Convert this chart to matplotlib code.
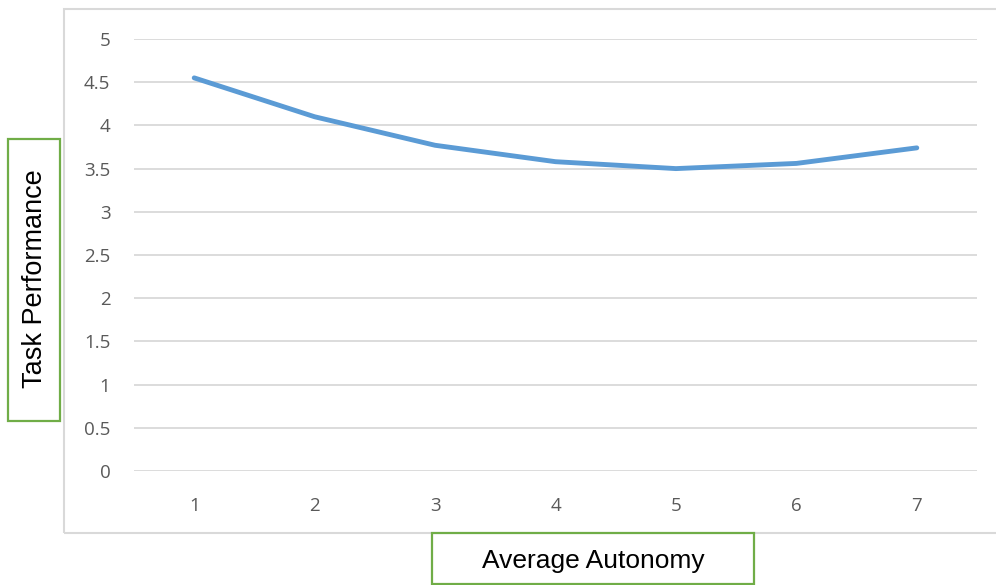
import matplotlib
matplotlib.use("Agg")
import matplotlib.pyplot as plt
from matplotlib.patches import Rectangle

# data
autonomy = [1, 2, 3, 4, 5, 6, 7]
performance = [4.55, 4.10, 3.77, 3.58, 3.50, 3.56, 3.74]
y_ticks = [0, 0.5, 1, 1.5, 2, 2.5, 3, 3.5, 4, 4.5, 5]
y_tick_labels = ["0", "0.5", "1", "1.5", "2", "2.5", "3", "3.5", "4", "4.5", "5"]

W, H = 996, 585
fig = plt.figure(figsize=(W / 100, H / 100), dpi=100)
fig.patch.set_facecolor("white")


def px_rect(x0, y0, x1, y1, color, lw):
    # rectangle given in pixel coords (top-left origin)
    r = Rectangle((x0 / W, 1 - y1 / H), (x1 - x0) / W, (y1 - y0) / H,
                  transform=fig.transFigure, fill=False, edgecolor=color,
                  linewidth=lw, zorder=0)
    fig.add_artist(r)


# outer chart border
px_rect(64, 9, 1000, 533, "#d9d9d9", 1.5)

ax = fig.add_axes([134 / W, 1 - 471 / H, (977 - 134) / W, (471 - 39) / H])
ax.plot(autonomy, performance, color="#5b9bd5", linewidth=3.5,
        solid_capstyle="round", solid_joinstyle="round", zorder=3)

ax.set_xlim(0.5, 7.5)
ax.set_ylim(0, 5)
ax.set_yticks(y_ticks)
ax.set_yticklabels(y_tick_labels)
ax.set_xticks(autonomy)
ax.grid(axis="y", color="#d9d9d9", linewidth=1.3)
ax.set_axisbelow(True)
for s in ax.spines.values():
    s.set_visible(False)
ax.tick_params(length=0, labelcolor="#595959", labelsize=13.5)
ax.tick_params(axis="y", pad=17)
ax.tick_params(axis="x", pad=19)
for lab in ax.get_xticklabels() + ax.get_yticklabels():
    lab.set_fontfamily("Open Sans")

# axis title boxes
px_rect(8, 139, 60, 421, "#70ad47", 1.6)
px_rect(432, 533, 754, 584, "#70ad47", 1.6)
fig.text(35 / W, 1 - 279 / H, "Task Performance", rotation=90,
         ha="center", va="center", fontsize=19.5, family="Liberation Sans")
fig.text(593 / W, 1 - 561 / H, "Average Autonomy",
         ha="center", va="center", fontsize=19, family="Liberation Sans")

fig.savefig("out.png", dpi=100)
